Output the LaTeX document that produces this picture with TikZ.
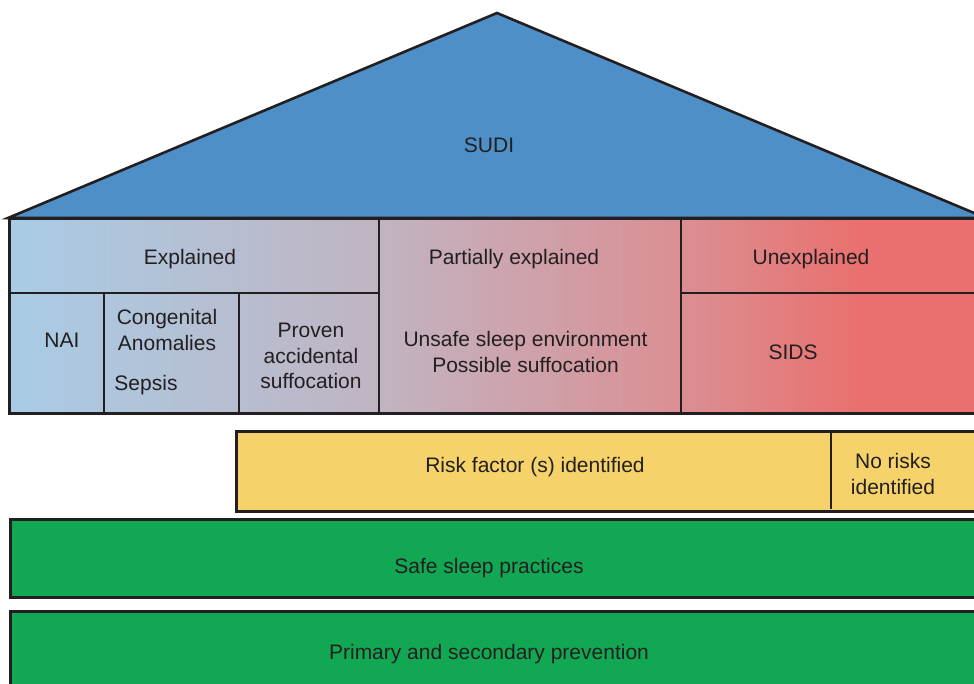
\documentclass[tikz,border=0pt]{standalone}
\usepackage{fontspec}
\setmainfont{Liberation Sans}
\definecolor{roofblue}{HTML}{4E8FC7}
\definecolor{gA}{HTML}{A8CCE6}
\definecolor{gB}{HTML}{C1B4C2}
\definecolor{gC}{HTML}{DB8F93}
\definecolor{gD}{HTML}{E9706E}
\definecolor{ylw}{HTML}{F5D36A}
\definecolor{grn}{HTML}{12A853}
\definecolor{ink}{HTML}{231F20}
\tikzset{
  edge/.style={draw=ink, line width=3pt, line join=miter},
  divider/.style={draw=ink, line width=2.8pt},
  lbl/.style={text=ink, font=\fontsize{21}{25.5}\selectfont, align=center, inner sep=0pt}
}
\begin{document}
\begin{tikzpicture}[x=1pt,y=-1pt]
\clip (0,0) rectangle (974,683);
\useasboundingbox (0,0) rectangle (974,683);
% roof
\path[fill=roofblue, draw=ink, line width=2.6pt, line join=miter] (8,218) -- (497,13) -- (986,218) -- cycle;
% gradient body
\fill[gD] (850,218) rectangle (995,413);
\shade[left color=gA, right color=gB] (9,218) rectangle (380,413);
\shade[left color=gB, right color=gC] (379,218) rectangle (682,413);
\shade[left color=gC, right color=gD] (681,218) rectangle (861,413);
\draw[edge] (9,218) rectangle (995,413);
\draw[divider] (9,293) -- (379,293);
\draw[divider] (681,293) -- (995,293);
\draw[divider] (104,293) -- (104,413);
\draw[divider] (239,293) -- (239,413);
\draw[divider] (379,218) -- (379,413);
\draw[divider] (681,218) -- (681,413);
% risk factors
\draw[edge, fill=ylw] (236,431) rectangle (995,511);
\draw[divider] (831,431) -- (831,509);
% green bands
\draw[edge, fill=grn] (10,519) rectangle (995,597);
\draw[edge, fill=grn] (10,611) rectangle (995,720);
% labels
\node[lbl] (sudi) at (489,145) {SUDI};
\node[lbl] (expl) at (190,259) {Explained};
\node[lbl] (partexpl) at (514,259) {Partially explained};
\node[lbl] (unexpl) at (811,259) {Unexplained};
\node[lbl] (nai) at (62,340) {NAI};
\node[lbl] (cong) at (167,330) {Congenital\\Anomalies};
\node[lbl] (sepsis) at (146,385) {Sepsis};
\node[lbl] (proven) at (311,356) {Proven\\accidental\\suffocation};
\node[lbl] (unsafe) at (525.5,352) {Unsafe sleep environment\\Possible suffocation};
\node[lbl] (sids) at (793,352) {SIDS};
\node[lbl] (risk) at (535,467) {Risk factor (s) identified};
\node[lbl] (norisk) at (893,474) {No risks\\identified};
\node[lbl] (safe) at (489,568) {Safe sleep practices};
\node[lbl] (prim) at (489,654) {Primary and secondary prevention};
\end{tikzpicture}
\end{document}
